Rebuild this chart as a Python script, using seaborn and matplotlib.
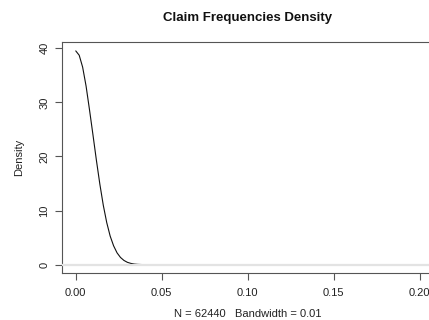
import matplotlib
matplotlib.use("Agg")
import matplotlib.pyplot as plt
import seaborn as sns
import pandas as pd

# values
claim_freq = [0.000, 0.002, 0.004, 0.006, 0.008, 0.010, 0.012, 0.014, 0.016,
              0.018, 0.020, 0.022, 0.024, 0.026, 0.028, 0.030, 0.032, 0.034,
              0.036, 0.038, 0.040, 0.050, 0.100, 0.150, 0.200]
density = [39.5, 38.7, 36.5, 33.0, 28.6, 24.0, 19.3, 14.9, 11.0,
           7.8, 5.3, 3.5, 2.2, 1.35, 0.8, 0.45, 0.25, 0.13,
           0.07, 0.04, 0.02, 0.002, 0.0, 0.0, 0.0]
x_ticks = [0.00, 0.05, 0.10, 0.15, 0.20]
x_tick_labels = ["0.00", "0.05", "0.10", "0.15", "0.20"]
y_ticks = [0, 10, 20, 30, 40]
title = "Claim Frequencies Density"
x_label = "N = 62440   Bandwidth = 0.01"
y_label = "Density"

sns.set_style("white")
plt.rcParams["font.family"] = ["Liberation Sans", "DejaVu Sans"]

df = pd.DataFrame({"x": claim_freq, "density": density})

W, H = 429, 320
fig = plt.figure(figsize=(W / 100, H / 100), dpi=100)
ax = fig.add_axes([62 / W, (H - 273.3) / H, (433.5 - 62) / W, (273.3 - 41.7) / H])

sns.lineplot(data=df, x="x", y="density", ax=ax, color="#111111", linewidth=0.8,
             estimator=None, sort=False, zorder=2)
ax.axhline(0, color="#e3e3e3", linewidth=1.6, zorder=3)

ax.set_xlim(-0.008, 0.208)
ax.set_ylim(-1.58, 41.2)
ax.set_xticks(x_ticks)
ax.set_xticklabels(x_tick_labels)
ax.set_yticks(y_ticks)
ax.set_yticklabels([str(v) for v in y_ticks], rotation=90, va="center")

for s in ax.spines.values():
    s.set_color("#555555")
    s.set_linewidth(0.8)

ax.tick_params(axis="both", which="both", direction="out", length=5,
               width=0.8, color="#555555", labelsize=8, labelcolor="#222222",
               bottom=True, left=True, pad=4)
ax.tick_params(axis="x", pad=5.5)

ax.set_xlabel(x_label, fontsize=8, color="#222222", labelpad=8)
ax.set_ylabel(y_label, fontsize=8, color="#222222", labelpad=11)
fig.text(248 / W, 1 - 18 / H, title, fontsize=9.5, fontweight="bold",
         ha="center", va="center", color="#111111")

fig.savefig("out.png", dpi=100)
